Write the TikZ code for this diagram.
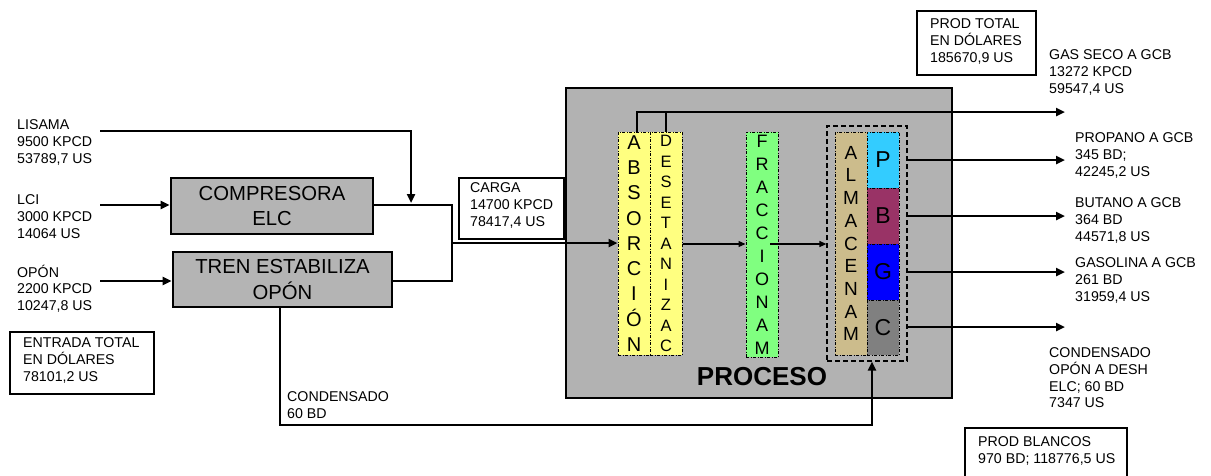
\documentclass[tikz,border=0pt]{standalone}
\usepackage{fontspec}
\setmainfont{Liberation Sans}
\usetikzlibrary{arrows.meta}
\definecolor{procgray}{RGB}{178,178,178}
\definecolor{boxgray}{RGB}{180,180,180}
\definecolor{colyellow}{RGB}{255,255,128}
\definecolor{colgreen}{RGB}{128,255,128}
\definecolor{coltan}{RGB}{204,188,140}
\definecolor{colP}{RGB}{51,204,255}
\definecolor{colB}{RGB}{153,51,102}
\definecolor{colG}{RGB}{0,0,255}
\definecolor{colC}{RGB}{128,128,128}
\tikzset{
  lbl/.style={font=\fontsize{14.2}{16.7}\selectfont, align=left, inner sep=0pt, anchor=north west,
    execute at begin node={\rule{0pt}{10.5pt}}},
  tbox/.style={draw, line width=1.3pt, inner sep=0pt},
  unit/.style={draw, line width=2.6pt, fill=boxgray, inner sep=0pt, align=center,
    font=\fontsize{20.3}{25.5}\selectfont},
  column/.style={draw, line width=1pt, dash pattern=on 3pt off 1.5pt on 1pt off 1.5pt,
    inner sep=0pt, align=center, minimum width=32pt},
  flow/.style={line width=2.6pt, -{Triangle[length=9pt,width=8pt]}},
  thinflow/.style={line width=1.2pt, -{Triangle[length=7pt,width=6pt]}},
  pipe/.style={line width=2.6pt},
}
\begin{document}
\begin{tikzpicture}[x=1pt,y=-1pt]
\useasboundingbox (0,0) rectangle (1211,475);

% process block
\node[draw, line width=2.6pt, fill=procgray, minimum width=386pt, minimum height=310pt, inner sep=0pt] (proc) at (759,243) {};
\node[font=\bfseries\fontsize{26}{30}\selectfont, inner sep=0pt] (proctxt) at (762,377) {PROCESO};

% units
\node[unit, minimum width=202pt, minimum height=56pt] (compre) at (272,206) {COMPRESORA\\ELC};
\node[unit, minimum width=219pt, minimum height=55pt] (tren) at (282.5,279.5) {TREN ESTABILIZA\\OPÓN};

% columns
\node[column, fill=colyellow, minimum height=223pt, font=\fontsize{20}{25.3}\selectfont] (absor) at (634,243.5)
  {A\\B\\S\\O\\R\\C\\I\\Ó\\N};
\node[column, fill=colyellow, minimum height=223pt, font=\fontsize{16.5}{20.5}\selectfont] (deset) at (666,243.5)
  {D\\E\\S\\E\\T\\A\\N\\I\\Z\\A\\C};
\node[column, fill=colgreen, minimum height=225pt, font=\fontsize{18}{23}\selectfont] (fracc) at (762,244.5)
  {F\\R\\A\\C\\C\\I\\O\\N\\A\\M};
\node[draw, line width=1.2pt, dash pattern=on 5pt off 3pt, minimum width=80pt, minimum height=235pt, inner sep=0pt] (store) at (867,243.5) {};
\node[column, fill=coltan, minimum height=223pt, font=\fontsize{19}{22.7}\selectfont] (almac) at (851,243.5)
  {A\\L\\M\\A\\C\\E\\N\\A\\M};
\node[column, fill=colP, minimum height=56pt, font=\fontsize{23}{26}\selectfont] (P) at (883,160) {P};
\node[column, fill=colB, minimum height=56pt, font=\fontsize{23}{26}\selectfont] (B) at (883,216) {B};
\node[column, fill=colG, minimum height=56pt, font=\fontsize{23}{26}\selectfont] (G) at (883,272) {G};
\node[column, fill=colC, minimum height=55pt, font=\fontsize{23}{26}\selectfont] (C) at (883,327.5) {C};

% text boxes
\node[tbox, minimum width=144pt, minimum height=62pt] (entrada) at (82,363) {};
\node[tbox, fill=white, minimum width=105pt, minimum height=61pt] (carga) at (511.5,208.5) {};
\node[tbox, minimum width=119pt, minimum height=64pt] (prodtot) at (976.5,43) {};
\node[tbox, minimum width=162pt, minimum height=50pt] (prodbl) at (1046,453) {};

% labels (top = first baseline - 10.5)
\node[lbl] (tlisama) at (17,119.5) {LISAMA\\9500 KPCD\\53789,7 US};
\node[lbl] (tlci) at (17,194.5) {LCI\\3000 KPCD\\14064 US};
\node[lbl] (topon) at (17,264.5) {OPÓN\\2200 KPCD\\10247,8 US};
\node[lbl] (tentrada) at (23,337.5) {ENTRADA TOTAL\\EN DÓLARES\\78101,2 US};
\node[lbl] (tcond) at (287,391.5) {CONDENSADO\\60 BD};
\node[lbl] (tcarga) at (470,182.5) {CARGA\\14700 KPCD\\78417,4 US};
\node[lbl] (tprodtot) at (930,18.5) {PROD TOTAL\\EN DÓLARES\\185670,9 US};
\node[lbl] (tgas) at (1049,49.5) {GAS SECO A GCB\\13272 KPCD\\59547,4 US};
\node[lbl] (tprop) at (1075,132.5) {PROPANO A GCB\\345 BD;\\42245,2 US};
\node[lbl] (tbut) at (1075,197.5) {BUTANO A GCB\\364 BD\\44571,8 US};
\node[lbl] (tgasol) at (1075,257.5) {GASOLINA A GCB\\261 BD\\31959,4 US};
\node[lbl] (tcondop) at (1049,347.5) {CONDENSADO\\OPÓN A DESH\\ELC; 60 BD\\7347 US};
\node[lbl] (tprodbl) at (978,436.5) {PROD BLANCOS\\970 BD; 118776,5 US};

% coordinates
\coordinate (lisamaS) at (100,131);
\coordinate (lciS) at (100,205);
\coordinate (oponS) at (100,281);
\coordinate (mix) at (452,243);
\coordinate (gasE) at (1065,112);
\coordinate (pE) at (1065,160);
\coordinate (bE) at (1065,216);
\coordinate (gE) at (1065,272);
\coordinate (cE) at (1065,327);

% inlet connectors
\draw[flow] (lisamaS) -| (411,203);
\draw[flow] (lciS) -- (compre.west |- lciS);
\draw[flow] (oponS) -- (tren.west |- oponS);
\draw[pipe] (compre.east |- 0,205) -- (452,205) -- (452,281) -- (tren.east |- 0,281);
\draw[flow] (mix) -- (absor.west |- mix);

% top gas line
\draw[flow] (absor.north -| 637,0) -- (637,112) -- (gasE);
\draw[pipe] (deset.north) -- (deset.north |- 0,112);

% internal thin arrows
\draw[thinflow] (deset.east |- 0,244) -- (fracc.west |- 0,244);
\draw[thinflow] (770,244) -- (store.west |- 0,244);

% product lines
\draw[flow] (store.east |- P) -- (pE);
\draw[flow] (store.east |- B) -- (bE);
\draw[flow] (store.east |- G) -- (gE);
\draw[flow] (store.east |- cE) -- (cE);

% condensate recycle
\draw[flow] (tren.south -| 280,0) -- (280,425) -- (872,425) -- (store.south -| 872,0);
\end{tikzpicture}
\end{document}
